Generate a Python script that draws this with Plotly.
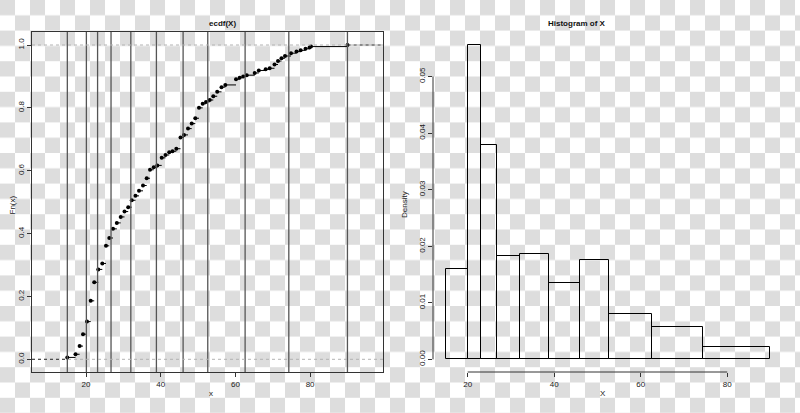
import base64
import numpy as np
import plotly.graph_objects as go

# ---------------- data ----------------
ecdf_x = [14.99, 17.19, 18.29, 19.20, 20.27, 21.26, 22.20, 23.29, 24.36, 25.35,
          26.24, 27.23, 28.25, 29.29, 30.31, 31.30, 32.24, 33.25, 34.19, 35.26,
          36.25, 37.14, 38.13, 39.09, 40.27, 41.29, 42.28, 43.16, 44.18, 45.30,
          46.24, 47.31, 48.30, 49.26, 50.25, 51.24, 52.13, 53.12, 54.08, 55.13,
          56.28, 57.30, 60.16, 61.15, 62.09, 63.03, 65.17, 66.27, 68.11, 69.18,
          70.47, 71.41, 72.34, 73.28, 74.89, 76.36, 77.48, 78.77, 79.84, 80.24,
          90.01]
ecdf_F = [0.006, 0.016, 0.042, 0.080, 0.120, 0.186, 0.245, 0.286, 0.305, 0.361,
          0.386, 0.415, 0.434, 0.453, 0.470, 0.484, 0.506, 0.520, 0.536, 0.553,
          0.576, 0.603, 0.611, 0.617, 0.641, 0.650, 0.659, 0.662, 0.670, 0.706,
          0.714, 0.734, 0.750, 0.767, 0.800, 0.813, 0.819, 0.825, 0.837, 0.851,
          0.866, 0.873, 0.891, 0.896, 0.900, 0.904, 0.911, 0.919, 0.923, 0.926,
          0.938, 0.949, 0.958, 0.965, 0.974, 0.979, 0.983, 0.988, 0.992, 0.995,
          1.000]

breaks = [15.0, 20.1, 23.1, 26.7, 32.0, 38.85, 46.0, 52.6, 62.6, 74.3, 90.0]
density = [0.0160, 0.0555, 0.0378, 0.01825, 0.0186, 0.01343, 0.0175, 0.0080, 0.0057, 0.00217]

ecdf_xticks = [20, 40, 60, 80]
ecdf_yticks = [0.0, 0.2, 0.4, 0.6, 0.8, 1.0]
ecdf_ylabels = ["0.0", "0.2", "0.4", "0.6", "0.8", "1.0"]
hist_xticks = [20, 40, 60, 80]
hist_yticks = [0.00, 0.01, 0.02, 0.03, 0.04, 0.05]
hist_ylabels = ["0.00", "0.01", "0.02", "0.03", "0.04", "0.05"]

# ---------------- styling ----------------
FONT = "Liberation Sans, Arial, Helvetica, sans-serif"
W, H = 800, 413
ecdf_xrange = [5.54, 99.52]
ecdf_yrange = [-0.0404, 1.0414]
hist_xrange = [11.98, 92.9]
hist_yrange = [-0.002244, 0.05786]
ydom = [(H - 372) / H, (H - 32) / H]

fig = go.Figure()

# step segments of the ECDF (horizontal only)
sx, sy = [], []
for i in range(len(ecdf_x) - 1):
    sx += [ecdf_x[i], ecdf_x[i + 1], None]
    sy += [ecdf_F[i], ecdf_F[i], None]
fig.add_trace(go.Scatter(x=sx, y=sy, mode="lines", line=dict(color="black", width=1),
                         xaxis="x", yaxis="y", hoverinfo="skip", showlegend=False))
fig.add_trace(go.Scatter(x=ecdf_x, y=ecdf_F, mode="markers",
                         marker=dict(color="black", size=4, line=dict(width=0)),
                         xaxis="x", yaxis="y", showlegend=False))

# histogram bars
b = np.array(breaks)
mids = (b[:-1] + b[1:]) / 2
widths = np.diff(b)
fig.add_trace(go.Bar(x=mids, y=density, width=widths,
                     marker=dict(color="rgba(0,0,0,0)", line=dict(color="black", width=1)),
                     xaxis="x2", yaxis="y2", showlegend=False))

shapes = []
# vertical lines at the breaks on ecdf panel
for v in breaks:
    shapes.append(dict(type="line", xref="x", yref="y domain", x0=v, x1=v, y0=0, y1=1,
                       line=dict(color="#555555", width=1.3)))
# 0 and 1 reference lines
for h in [0, 1]:
    shapes.append(dict(type="line", xref="x domain", yref="y", x0=0, x1=1, y0=h, y1=h,
                       line=dict(color="#b3b3b3", width=1, dash="dot")))
# dotted extensions
shapes.append(dict(type="line", xref="x", yref="y", x0=ecdf_xrange[0], x1=ecdf_x[0], y0=0, y1=0,
                   line=dict(color="#333333", width=1, dash="dot")))
shapes.append(dict(type="line", xref="x", yref="y", x0=ecdf_x[-1], x1=ecdf_xrange[1], y0=1, y1=1,
                   line=dict(color="#333333", width=1, dash="dot")))
# R-style axis lines on histogram
shapes.append(dict(type="line", xref="x2", yref="y2 domain", x0=hist_xticks[0], x1=hist_xticks[-1],
                   y0=0, y1=0, line=dict(color="#333333", width=1)))
shapes.append(dict(type="line", xref="x2 domain", yref="y2", x0=0, x1=0,
                   y0=hist_yticks[0], y1=hist_yticks[-1], line=dict(color="#333333", width=1)))

# checkerboard background (transparency pattern)
svg = ('<svg xmlns="http://www.w3.org/2000/svg" width="800" height="413">'
       '<defs><pattern id="c" width="30" height="30.6" patternUnits="userSpaceOnUse">'
       '<rect width="30" height="30.6" fill="#ffffff"/>'
       '<rect width="15" height="15.3" fill="#dddddd"/>'
       '<rect x="15" y="15.3" width="15" height="15.3" fill="#dddddd"/>'
       '</pattern></defs><rect width="800" height="413" fill="url(#c)"/></svg>')
src = "data:image/svg+xml;base64," + base64.b64encode(svg.encode()).decode()

tick_common = dict(showgrid=False, zeroline=False, ticks="outside", ticklen=4,
                   tickcolor="#333333", tickwidth=1,
                   tickfont=dict(family=FONT, size=8, color="#1a1a1a"))

fig.update_layout(
    width=W, height=H,
    margin=dict(l=0, r=0, t=0, b=0),
    paper_bgcolor="white", plot_bgcolor="rgba(0,0,0,0)",
    showlegend=False, bargap=0,
    font=dict(family=FONT, size=8, color="#1a1a1a"),
    images=[dict(source=src, xref="paper", yref="paper", x=0, y=1, sizex=1, sizey=1,
                 xanchor="left", yanchor="top", sizing="stretch", layer="below")],
    xaxis=dict(domain=[32 / W, 383 / W], range=ecdf_xrange, tickvals=ecdf_xticks,
               showline=True, mirror=True, linecolor="#333333", linewidth=1, anchor="y",
               **tick_common),
    yaxis=dict(domain=ydom, range=ecdf_yrange, tickvals=ecdf_yticks, ticktext=ecdf_ylabels,
               tickangle=-90, showline=True, mirror=True, linecolor="#333333", linewidth=1,
               anchor="x", **tick_common),
    xaxis2=dict(domain=[433 / W, 783 / W], range=hist_xrange, tickvals=hist_xticks,
                showline=False, anchor="y2", **tick_common),
    yaxis2=dict(domain=ydom, range=hist_yrange, tickvals=hist_yticks, ticktext=hist_ylabels,
                tickangle=-90, showline=False, anchor="x2", **tick_common),
    shapes=shapes,
    annotations=[
        dict(text="<b>ecdf(X)</b>", x=207 / W, y=1 - 17 / H, xref="paper", yref="paper",
             showarrow=False, font=dict(family=FONT, size=8, color="#111111")),
        dict(text="<b>Histogram of X</b>", x=608 / W, y=1 - 17 / H, xref="paper", yref="paper",
             showarrow=False, font=dict(family=FONT, size=8, color="#111111")),
        dict(text="x", x=207 / W, y=1 - 400 / H, xref="paper", yref="paper",
             showarrow=False, font=dict(family=FONT, size=8, color="#1a1a1a")),
        dict(text="X", x=608 / W, y=1 - 400 / H, xref="paper", yref="paper",
             showarrow=False, font=dict(family=FONT, size=8, color="#1a1a1a")),
        dict(text="Fn(x)", x=5 / W, y=1 - 205 / H, xref="paper", yref="paper", textangle=-90,
             showarrow=False, font=dict(family=FONT, size=8, color="#1a1a1a")),
        dict(text="Density", x=404 / W, y=1 - 205 / H, xref="paper", yref="paper", textangle=-90,
             showarrow=False, font=dict(family=FONT, size=8, color="#1a1a1a")),
    ],
)

fig.write_html("out.html", config={"responsive": False, "displayModeBar": False},
               post_script="document.body.style.margin='0px';document.body.style.overflow='hidden';")
